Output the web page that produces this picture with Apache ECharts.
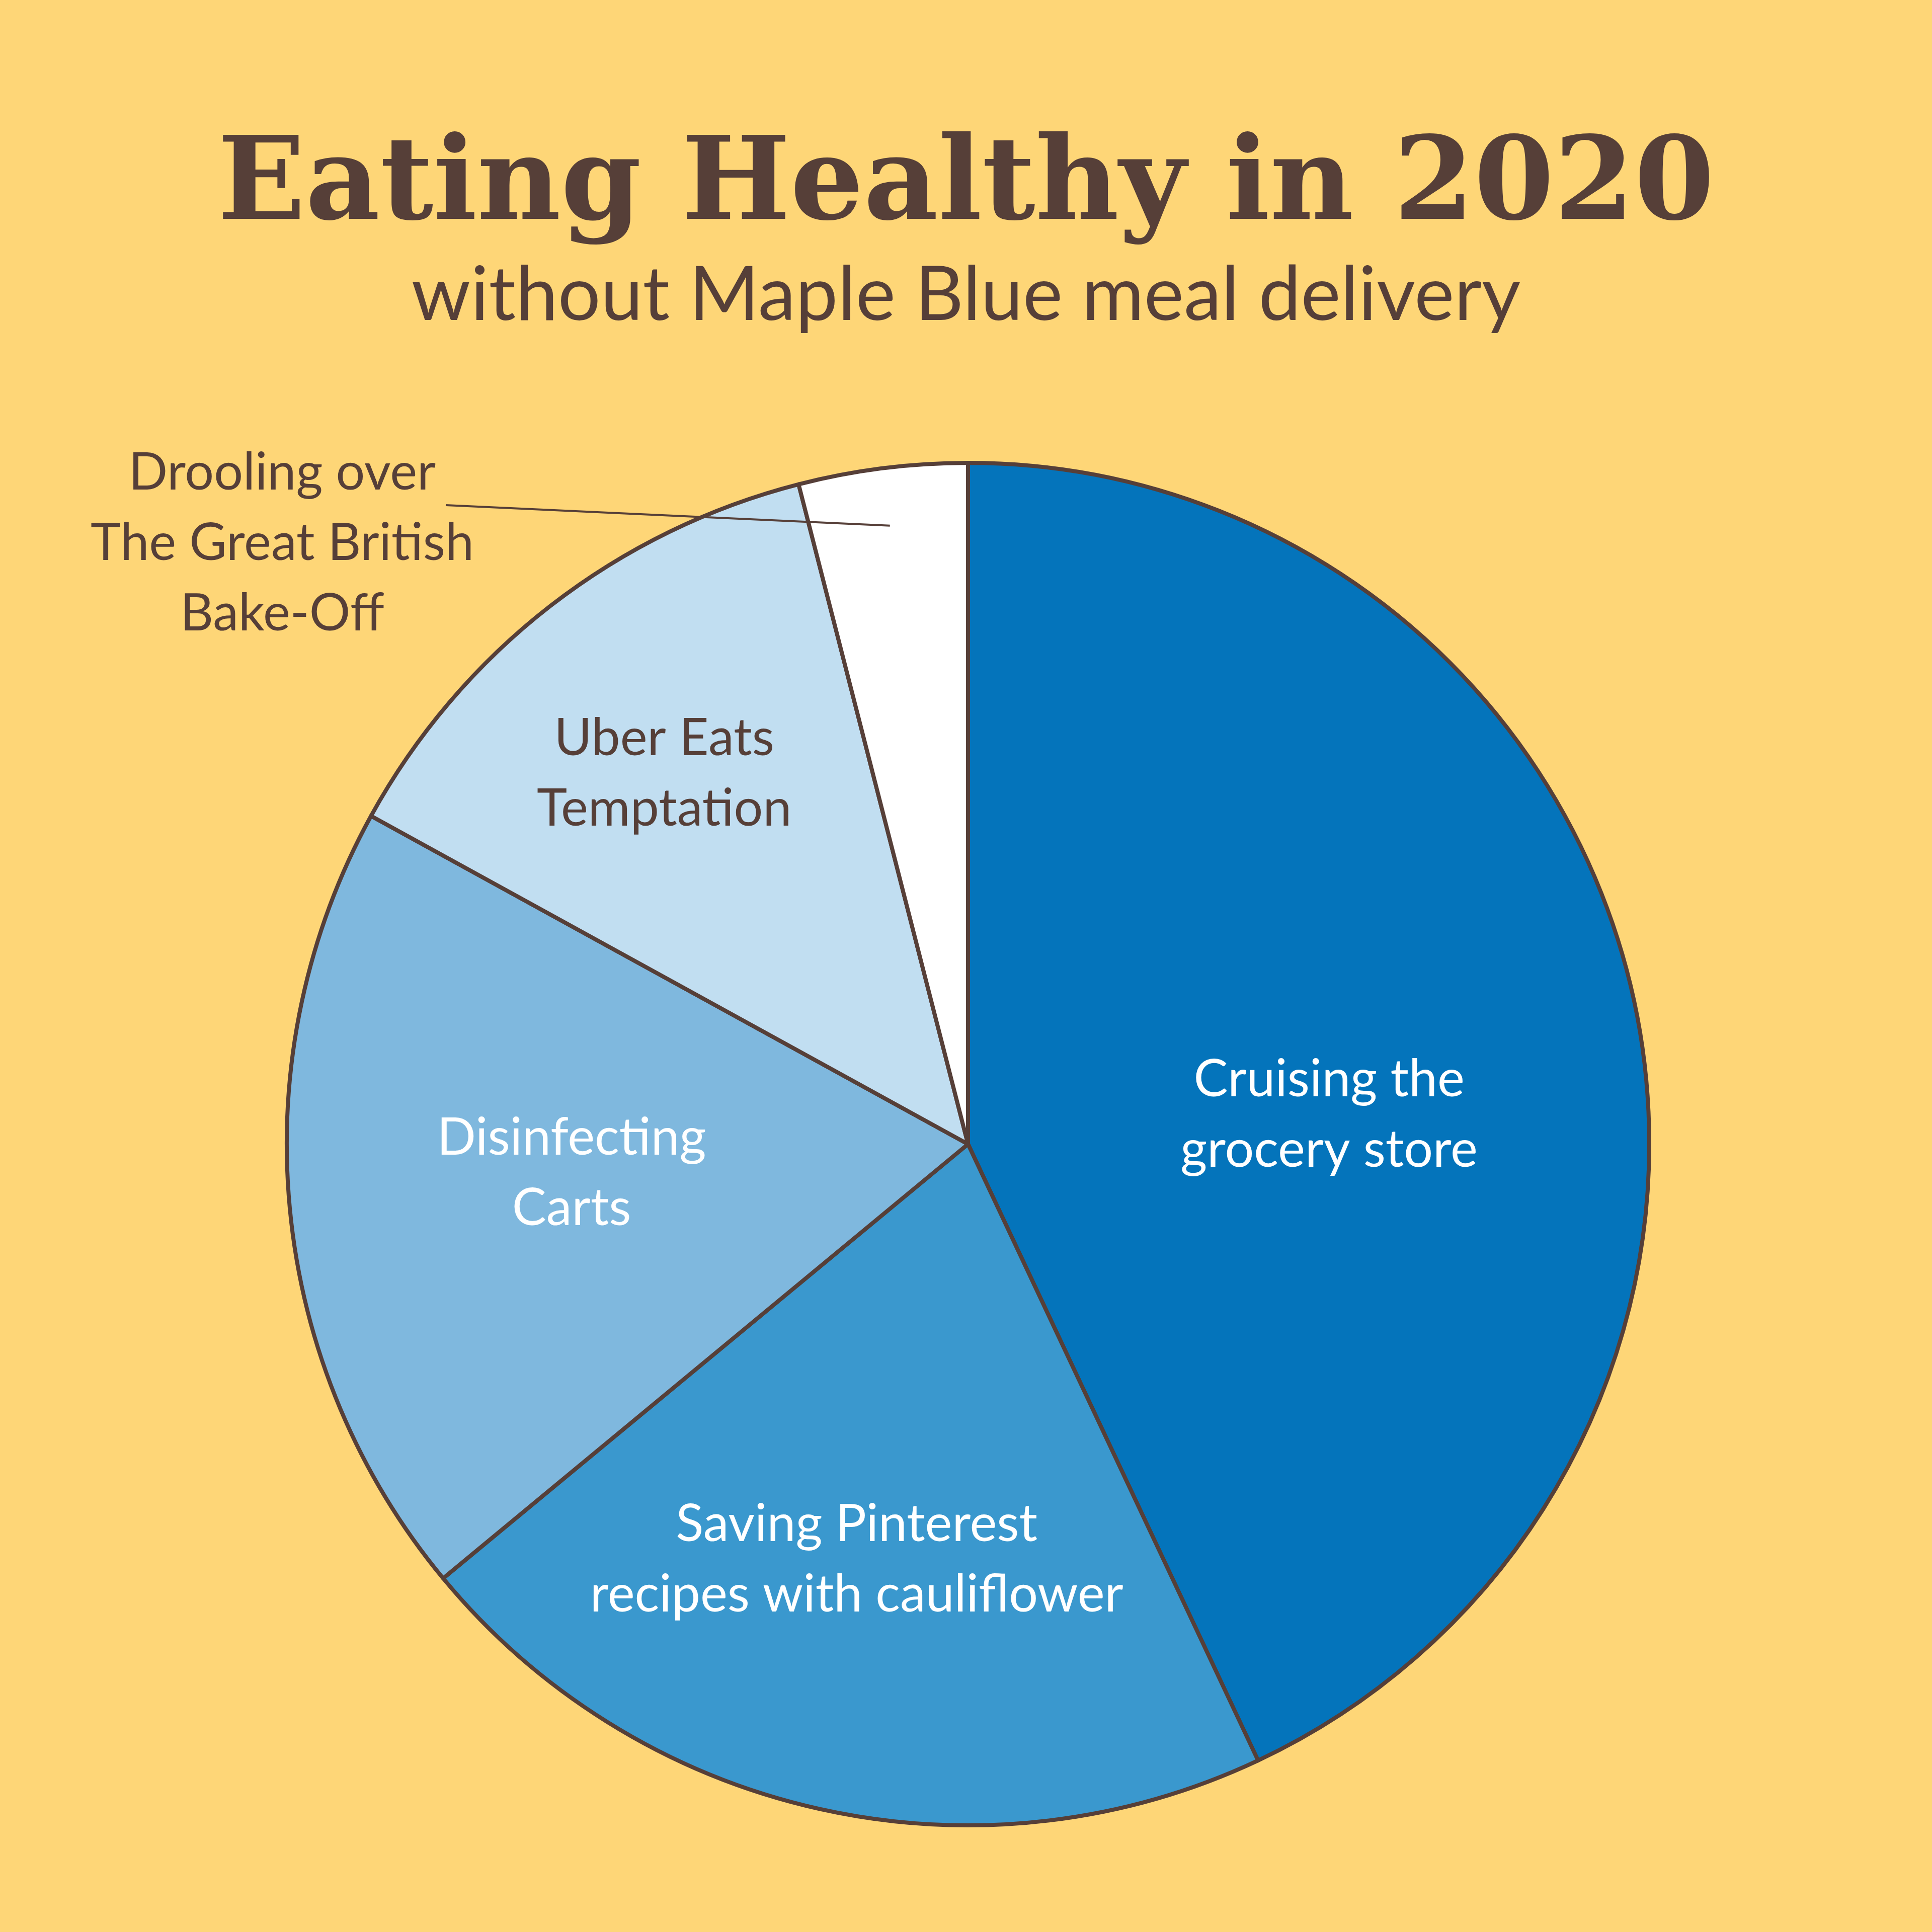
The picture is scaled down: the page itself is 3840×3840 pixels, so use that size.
<!DOCTYPE html>
<html>
<head>
<meta charset="utf-8">
<script src="https://cdn.jsdelivr.net/npm/echarts@6/dist/echarts.min.js"></script>
<style>
html,body{margin:0;padding:0;background:#FED677;}
#chart{width:3840px;height:3840px;}
</style>
</head>
<body>
<div id="chart"></div>
<script>
// ---- data ----
var categories = ['Cruising the grocery store', 'Saving Pinterest recipes with cauliflower', 'Disinfecting Carts', 'Uber Eats Temptation', 'Drooling over The Great British Bake-Off'];
var labelTexts = ['Cruising the\ngrocery store', 'Saving Pinterest\nrecipes with cauliflower', 'Disinfecting\nCarts', 'Uber Eats\nTemptation', 'Drooling over\nThe Great British\nBake-Off'];
var values = [43, 21, 19, 13, 4];
var sliceColors = ['#0474BB', '#3A98CE', '#7FB8DE', '#C1DEF1', '#FFFFFF'];
var labelColors = ['#FFFFFF', '#FFFFFF', '#FFFFFF', '#563F38', '#563F38'];
var titleText = 'Eating Healthy in 2020';
var subtitleText = 'without Maple Blue meal delivery';

var W = 3840, H = 3840;
var cx = 1924, cy = 2274, R = 1354;
var ink = '#563F38';
var labelFont = 'Lato, "Noto Sans", sans-serif';

var insideOffsets = [[54, 90], [-73, 162], [-111, -6], [-187, -199]];

var chart = echarts.init(document.getElementById('chart'), null, {renderer: 'canvas', width: W, height: H});

function labelStyle(i) {
  return {
    formatter: labelTexts[i],
    color: labelColors[i],
    fontFamily: labelFont,
    fontSize: 102,
    lineHeight: 140,
    align: 'center'
  };
}

// main pie: slices + inside labels
var mainData = categories.map(function (c, i) {
  var lab = labelStyle(i);
  lab.show = i < 4;
  lab.position = 'inside';
  return {
    name: c,
    value: values[i],
    itemStyle: {color: sliceColors[i]},
    label: lab,
    labelLine: {show: false}
  };
});

// overlay pie (transparent) carrying the outside annotation so its leader line sits on top
var overlayData = categories.map(function (c, i) {
  var lab = labelStyle(i);
  lab.show = i === 4;
  lab.position = 'outside';
  return {
    name: c,
    value: values[i],
    itemStyle: {color: 'rgba(0,0,0,0)', borderWidth: 0},
    label: lab,
    labelLine: {show: i === 4, maxSurfaceAngle: 180, minTurnAngle: 0, lineStyle: {color: ink, width: 4}}
  };
});

chart.setOption({
  backgroundColor: '#FED677',
  animation: false,
  title: [{
    text: titleText,
    left: 'center',
    top: 256,
    textStyle: {fontFamily: '"DejaVu Serif", serif', fontWeight: 'bold', fontSize: 229, lineHeight: 229, color: ink}
  }, {
    text: subtitleText,
    left: 'center',
    top: 508,
    textStyle: {fontFamily: labelFont, fontWeight: 'normal', fontSize: 150, lineHeight: 150, color: ink}
  }],
  series: [{
    type: 'pie',
    z: 2,
    center: [cx, cy],
    radius: [0, R],
    startAngle: 90,
    clockwise: true,
    avoidLabelOverlap: false,
    silent: true,
    data: mainData,
    itemStyle: {borderColor: ink, borderWidth: 8},
    emphasis: {disabled: true},
    labelLayout: function (p) {
      var o = insideOffsets[p.dataIndex] || [0, 0];
      return {dx: o[0], dy: o[1]};
    }
  }, {
    type: 'pie',
    z: 6,
    center: [cx, cy],
    radius: [0, R],
    startAngle: 90,
    clockwise: true,
    avoidLabelOverlap: false,
    silent: true,
    data: overlayData,
    emphasis: {disabled: true},
    labelLayout: function (p) {
      if (p.dataIndex !== 4) return {};
      var p0 = p.labelLinePoints ? p.labelLinePoints[0] : [cx, cy - R];
      var inner = [cx + (p0[0] - cx) * 0.915, cy + (p0[1] - cy) * 0.915];
      var start = [886, 1004];
      return {
        x: 561, y: 1080, align: 'center', verticalAlign: 'middle',
        labelLinePoints: [inner, [(inner[0] + start[0]) / 2, (inner[1] + start[1]) / 2], start]
      };
    }
  }]
});
</script>
</body>
</html>
